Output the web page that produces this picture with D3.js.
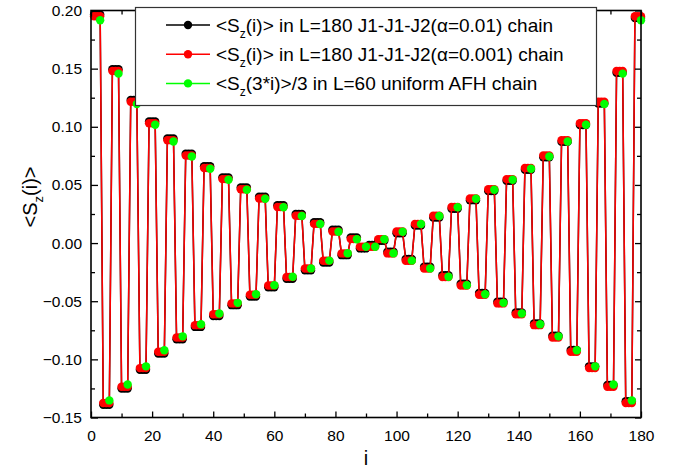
<!DOCTYPE html>
<html>
<head>
<meta charset="utf-8">
<script src="https://cdn.jsdelivr.net/npm/d3@7"></script>
<style>
  body { margin: 0; background: #fff; }
  svg { font-family: "Liberation Sans", Arial, sans-serif; }
</style>
</head>
<body>
<svg id="chart"></svg>
<script>
// <Sz(i)> for L=180 J1-J1-J2 chain, alpha = 0.01 (black)
const blackSz = [
  0.1965, 0.1965, 0.1965, -0.1390, -0.1390, -0.1390, 0.1495, 0.1495, 0.1495, -0.1250, -0.1250, -0.1250, 0.1230, 0.1230, 0.1230,
  -0.1090, -0.1090, -0.1090, 0.1045, 0.1045, 0.1045, -0.0950, -0.0950, -0.0950, 0.0900, 0.0900, 0.0900, -0.0827, -0.0827, -0.0827,
  0.0768, 0.0768, 0.0768, -0.0721, -0.0721, -0.0721, 0.0661, 0.0661, 0.0661, -0.0627, -0.0627, -0.0627, 0.0565, 0.0565, 0.0565,
  -0.0534, -0.0534, -0.0534, 0.0478, 0.0478, 0.0478, -0.0459, -0.0459, -0.0459, 0.0399, 0.0399, 0.0399, -0.0380, -0.0380, -0.0380,
  0.0325, 0.0325, 0.0325, -0.0307, -0.0307, -0.0307, 0.0250, 0.0250, 0.0250, -0.0234, -0.0234, -0.0234, 0.0180, 0.0180, 0.0180,
  -0.0167, -0.0167, -0.0167, 0.0114, 0.0114, 0.0114, -0.0104, -0.0104, -0.0104, 0.0049, 0.0049, 0.0049, -0.0046, -0.0046, -0.0046,
  -0.0016, -0.0016, -0.0016, 0.0019, 0.0019, 0.0019, -0.0074, -0.0074, -0.0074, 0.0084, 0.0084, 0.0084, -0.0137, -0.0137, -0.0137,
  0.0150, 0.0150, 0.0150, -0.0204, -0.0204, -0.0204, 0.0220, 0.0220, 0.0220, -0.0277, -0.0277, -0.0277, 0.0295, 0.0295, 0.0295,
  -0.0350, -0.0350, -0.0350, 0.0369, 0.0369, 0.0369, -0.0429, -0.0429, -0.0429, 0.0448, 0.0448, 0.0448, -0.0504, -0.0504, -0.0504,
  0.0535, 0.0535, 0.0535, -0.0597, -0.0597, -0.0597, 0.0631, 0.0631, 0.0631, -0.0691, -0.0691, -0.0691, 0.0738, 0.0738, 0.0738,
  -0.0797, -0.0797, -0.0797, 0.0870, 0.0870, 0.0870, -0.0920, -0.0920, -0.0920, 0.1015, 0.1015, 0.1015, -0.1060, -0.1060, -0.1060,
  0.1200, 0.1200, 0.1200, -0.1220, -0.1220, -0.1220, 0.1465, 0.1465, 0.1465, -0.1360, -0.1360, -0.1360, 0.1935, 0.1935, 0.1935
];

// <Sz(i)> for L=180 J1-J1-J2 chain, alpha = 0.001 (red)
const redSz = [
  0.1950, 0.1950, 0.1950, -0.1375, -0.1375, -0.1375, 0.1480, 0.1480, 0.1480, -0.1235, -0.1235, -0.1235, 0.1215, 0.1215, 0.1215,
  -0.1075, -0.1075, -0.1075, 0.1030, 0.1030, 0.1030, -0.0935, -0.0935, -0.0935, 0.0885, 0.0885, 0.0885, -0.0812, -0.0812, -0.0812,
  0.0753, 0.0753, 0.0753, -0.0706, -0.0706, -0.0706, 0.0646, 0.0646, 0.0646, -0.0612, -0.0612, -0.0612, 0.0550, 0.0550, 0.0550,
  -0.0519, -0.0519, -0.0519, 0.0463, 0.0463, 0.0463, -0.0444, -0.0444, -0.0444, 0.0384, 0.0384, 0.0384, -0.0365, -0.0365, -0.0365,
  0.0310, 0.0310, 0.0310, -0.0292, -0.0292, -0.0292, 0.0235, 0.0235, 0.0235, -0.0219, -0.0219, -0.0219, 0.0165, 0.0165, 0.0165,
  -0.0152, -0.0152, -0.0152, 0.0099, 0.0099, 0.0099, -0.0089, -0.0089, -0.0089, 0.0034, 0.0034, 0.0034, -0.0031, -0.0031, -0.0031,
  -0.0031, -0.0031, -0.0031, 0.0034, 0.0034, 0.0034, -0.0089, -0.0089, -0.0089, 0.0099, 0.0099, 0.0099, -0.0152, -0.0152, -0.0152,
  0.0165, 0.0165, 0.0165, -0.0219, -0.0219, -0.0219, 0.0235, 0.0235, 0.0235, -0.0292, -0.0292, -0.0292, 0.0310, 0.0310, 0.0310,
  -0.0365, -0.0365, -0.0365, 0.0384, 0.0384, 0.0384, -0.0444, -0.0444, -0.0444, 0.0463, 0.0463, 0.0463, -0.0519, -0.0519, -0.0519,
  0.0550, 0.0550, 0.0550, -0.0612, -0.0612, -0.0612, 0.0646, 0.0646, 0.0646, -0.0706, -0.0706, -0.0706, 0.0753, 0.0753, 0.0753,
  -0.0812, -0.0812, -0.0812, 0.0885, 0.0885, 0.0885, -0.0935, -0.0935, -0.0935, 0.1030, 0.1030, 0.1030, -0.1075, -0.1075, -0.1075,
  0.1215, 0.1215, 0.1215, -0.1235, -0.1235, -0.1235, 0.1480, 0.1480, 0.1480, -0.1375, -0.1375, -0.1375, 0.1950, 0.1950, 0.1950
];

// <Sz(3*i)>/3 for L=60 uniform AFH chain (green), plotted at 3*i
const greenSite = [
  3, 6, 9, 12, 15, 18, 21, 24, 27, 30, 33, 36, 39, 42, 45, 48, 51, 54, 57, 60,
  63, 66, 69, 72, 75, 78, 81, 84, 87, 90, 93, 96, 99, 102, 105, 108, 111, 114, 117, 120,
  123, 126, 129, 132, 135, 138, 141, 144, 147, 150, 153, 156, 159, 162, 165, 168, 171, 174, 177, 180
];
const greenSz = [
  0.1916, -0.1353, 0.1457, -0.1216, 0.1196, -0.1060, 0.1017, -0.0922, 0.0873, -0.0802,
  0.0744, -0.0698, 0.0639, -0.0606, 0.0544, -0.0514, 0.0459, -0.0440, 0.0381, -0.0362,
  0.0308, -0.0290, 0.0233, -0.0218, 0.0164, -0.0151, 0.0098, -0.0088, 0.0033, -0.0031,
  -0.0031, 0.0033, -0.0088, 0.0098, -0.0151, 0.0164, -0.0218, 0.0233, -0.0290, 0.0308,
  -0.0362, 0.0381, -0.0440, 0.0459, -0.0514, 0.0544, -0.0606, 0.0639, -0.0698, 0.0744,
  -0.0802, 0.0873, -0.0922, 0.1017, -0.1060, 0.1196, -0.1216, 0.1457, -0.1353, 0.1916
];

const xTicks = [0, 20, 40, 60, 80, 100, 120, 140, 160, 180];
const yTicks = [-0.15, -0.10, -0.05, 0.00, 0.05, 0.10, 0.15, 0.20];

const legendRows = [
  { color: "#000000", pre: "<S", sub: "z", post: "(i)> in L=180 J1-J1-J2(\u03b1=0.01) chain" },
  { color: "#ff0000", pre: "<S", sub: "z", post: "(i)> in L=180 J1-J1-J2(\u03b1=0.001) chain" },
  { color: "#00ff00", pre: "<S", sub: "z", post: "(3*i)>/3 in L=60 uniform AFH chain" }
];

const w = 675;
const h = 470;
const pLeft = 91, pRight = 641, pTop = 10.5, pBottom = 417.5;

const svg = d3.select("#chart").attr("width", w).attr("height", h);

const x = d3.scaleLinear().domain([0, 180]).range([pLeft, pRight]);
const y = d3.scaleLinear().domain([-0.15, 0.20]).range([pBottom, pTop]);

const sites = d3.range(1, 181);
const blackData = sites.map((s, i) => [s, blackSz[i]]);
const redData = sites.map((s, i) => [s, redSz[i]]);
const greenData = greenSite.map((s, i) => [s, greenSz[i]]);

const line = d3.line().x((d) => x(d[0])).y((d) => y(d[1]));
const r = 4.2;

const drawSeries = (data, color, withLine) => {
  const g = svg.append("g");
  if (withLine) {
    g.append("path")
      .datum(data)
      .attr("d", line)
      .attr("fill", "none")
      .attr("stroke", color)
      .attr("stroke-width", 1.5);
  }
  g.selectAll("circle")
    .data(data)
    .enter()
    .append("circle")
    .attr("cx", (d) => x(d[0]))
    .attr("cy", (d) => y(d[1]))
    .attr("r", r)
    .attr("fill", color);
};

drawSeries(blackData, "#000000", true);
drawSeries(redData, "#ff0000", true);
drawSeries(greenData, "#00ff00", false);

// axes, ticks inward on all four sides
const tickFmt = d3.format(".2f");
const xAxisB = d3.axisBottom(x).tickValues(xTicks).tickSize(-6).tickPadding(12);
const xAxisT = d3.axisTop(x).tickValues(xTicks).tickSize(-6).tickFormat("");
const yAxisL = d3.axisLeft(y).tickValues(yTicks).tickSize(-7).tickPadding(9).tickFormat(tickFmt);
const yAxisR = d3.axisRight(y).tickValues(yTicks).tickSize(-6).tickFormat("");

const xMinor = d3.range(10, 180, 20);
const yMinor = [-0.125, -0.075, -0.025, 0.025, 0.075, 0.125, 0.175];

const styleAxis = (g) => {
  g.select(".domain").remove();
  g.selectAll(".tick line").attr("stroke", "#000").attr("stroke-width", 1.3);
  g.selectAll("text").attr("fill", "#000").style("font-size", "15.5px")
    .style("font-family", "'Liberation Sans', Arial, sans-serif");
};

svg.append("g").attr("transform", `translate(0,${pBottom})`).call(xAxisB).call(styleAxis);
svg.append("g").attr("transform", `translate(0,${pTop})`).call(xAxisT).call(styleAxis);
svg.append("g").attr("transform", `translate(${pLeft},0)`).call(yAxisL).call(styleAxis);
svg.append("g").attr("transform", `translate(${pRight},0)`).call(yAxisR).call(styleAxis);

svg.append("g").attr("transform", `translate(0,${pBottom})`)
  .call(d3.axisBottom(x).tickValues(xMinor).tickSize(-4).tickFormat("")).call(styleAxis);
svg.append("g").attr("transform", `translate(0,${pTop})`)
  .call(d3.axisTop(x).tickValues(xMinor).tickSize(-4).tickFormat("")).call(styleAxis);
svg.append("g").attr("transform", `translate(${pLeft},0)`)
  .call(d3.axisLeft(y).tickValues(yMinor).tickSize(-4).tickFormat("")).call(styleAxis);
svg.append("g").attr("transform", `translate(${pRight},0)`)
  .call(d3.axisRight(y).tickValues(yMinor).tickSize(-4).tickFormat("")).call(styleAxis);

// frame
svg.append("rect")
  .attr("x", pLeft).attr("y", pTop)
  .attr("width", pRight - pLeft).attr("height", pBottom - pTop)
  .attr("fill", "none").attr("stroke", "#000").attr("stroke-width", 1.6);

// axis titles
svg.append("text")
  .attr("x", (pLeft + pRight) / 2).attr("y", 465)
  .attr("text-anchor", "middle").style("font-size", "20px")
  .text("i");

const yt = svg.append("text")
  .attr("transform", "translate(37,197) rotate(-90)")
  .attr("text-anchor", "middle").style("font-size", "20px");
yt.append("tspan").text("<S");
yt.append("tspan").attr("dy", 6).style("font-size", "13px").text("z");
yt.append("tspan").attr("dy", -6).text("(i)>");

// legend
const lg = svg.append("g");
lg.append("rect")
  .attr("x", 135.5).attr("y", 7.5).attr("width", 461).attr("height", 98)
  .attr("fill", "#fff").attr("stroke", "#333").attr("stroke-width", 1.2);

legendRows.forEach((row, i) => {
  const cy = 25 + i * 29.2;
  lg.append("line")
    .attr("x1", 166).attr("x2", 210).attr("y1", cy).attr("y2", cy)
    .attr("stroke", row.color).attr("stroke-width", 1.5);
  lg.append("circle").attr("cx", 188).attr("cy", cy).attr("r", 4.2).attr("fill", row.color);
  const t = lg.append("text").attr("x", 216).attr("y", cy + 6.7).style("font-size", "19px");
  t.append("tspan").text(row.pre);
  t.append("tspan").attr("dy", 6).style("font-size", "12px").text(row.sub);
  t.append("tspan").attr("dy", -6).text(row.post);
});
</script>
</body>
</html>
